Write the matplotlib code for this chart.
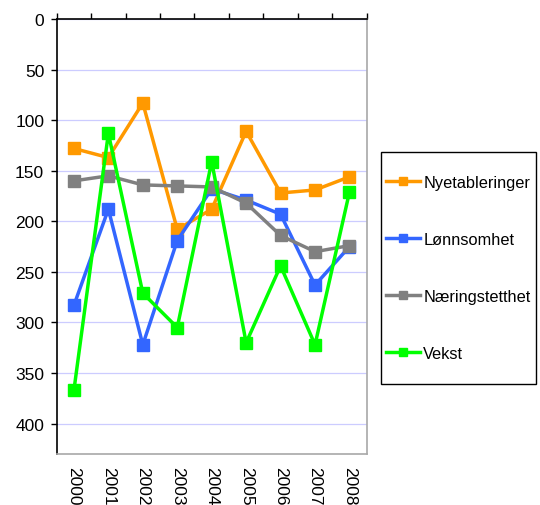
import numpy as np
import matplotlib.pyplot as plt
from matplotlib.patches import Rectangle

plt.rcParams['font.family'] = ['Liberation Sans', 'DejaVu Sans']
plt.rcParams['font.size'] = 12.5

# Rangering per år (lavere tall = bedre plass)
years = ['2000', '2001', '2002', '2003', '2004', '2005', '2006', '2007', '2008']
nyetableringer = [128, 137, 83, 208, 188, 111, 172, 169, 156]
lonnsomhet = [283, 188, 322, 219, 168, 179, 193, 263, 225]
naeringstetthet = [160, 155, 164, 165, 166, 182, 214, 230, 224]
vekst = [367, 113, 271, 305, 141, 320, 244, 322, 171]

series = [
    ('Nyetableringer', nyetableringer, '#FF9900'),
    ('Lønnsomhet', lonnsomhet, '#3366FF'),
    ('Næringstetthet', naeringstetthet, '#808080'),
    ('Vekst', vekst, '#00FF00'),
]

fig = plt.figure(figsize=(5.4, 5.06), dpi=100)
ax = fig.add_axes([56.7 / 540, 1 - 455 / 506, 310 / 540, 435 / 506])

x = np.arange(len(years))
for name, vals, col in series:
    ax.plot(x, vals, color=col, lw=2.5, marker='s', ms=9,
            mec=col, mfc=col, label=name, zorder=3)

ax.set_xlim(-0.5, len(years) - 0.5)
ax.set_ylim(430, 0)
ax.set_yticks(np.arange(0, 401, 50))
ax.yaxis.grid(True, color='#ccccff', lw=0.9)
ax.set_axisbelow(True)

# årstall nederst, delestreker øverst mellom kategoriene
ax.set_xticks(x)
ax.set_xticklabels(years, rotation=-90, va='top', ha='center')
ax.set_xticks(np.arange(-0.5, len(years)), minor=True)
ax.tick_params(axis='x', which='major', length=0, pad=9)
ax.tick_params(axis='x', which='minor', top=True, bottom=False,
               length=4, direction='out', width=1, color='black')
ax.tick_params(axis='y', which='major', length=4, direction='out', pad=5, width=1)

ax.spines['left'].set_color('black')
ax.spines['top'].set_color('black')
ax.spines['right'].set_color('#a8a8a8')
ax.spines['bottom'].set_color('#a8a8a8')
for s in ax.spines.values():
    s.set_linewidth(1.2)

# forklaring med egen ramme
fig.patches.append(Rectangle((381 / 540, 1 - 385 / 506), 155 / 540, 232 / 506,
                             transform=fig.transFigure, fill=False,
                             edgecolor='black', lw=1))
fig.legend(loc='center left', bbox_to_anchor=(377.5 / 540, 1 - 269 / 506),
           frameon=False, fontsize=11.8, handlelength=2.07, handletextpad=0.22,
           labelspacing=2.56, markerscale=0.65, borderpad=0)

fig.savefig('out.png', dpi=100)
